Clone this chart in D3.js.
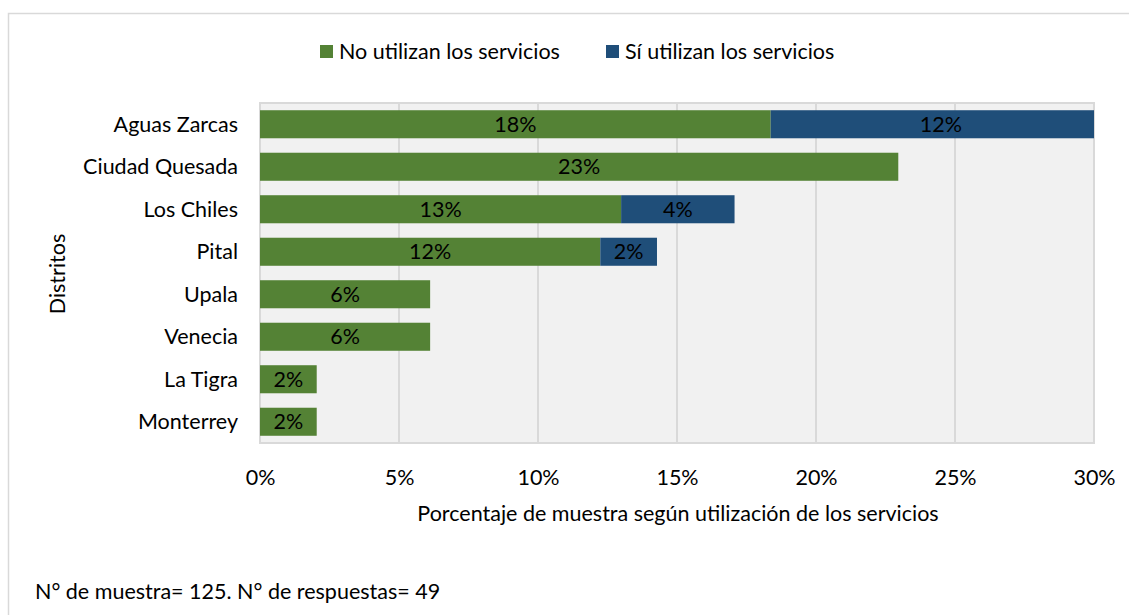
<!DOCTYPE html>
<html>
<head>
<meta charset="utf-8">
<script src="https://cdn.jsdelivr.net/npm/d3@7"></script>
<style>
  html, body { margin: 0; padding: 0; background: #fff; }
  svg { display: block; font-family: Lato, "Open Sans", sans-serif; }
</style>
</head>
<body>
<svg id="chart" width="1129" height="615"></svg>
<script>
// Districts, top to bottom
const districts = ["Aguas Zarcas", "Ciudad Quesada", "Los Chiles", "Pital", "Upala", "Venecia", "La Tigra", "Monterrey"];
// Share of sample (%) that does not use the services
const noUsan = [18.37, 22.96, 12.99, 12.24, 6.12, 6.12, 2.04, 2.04];
// Share of sample (%) that uses the services
const siUsan = [12.24, 0, 4.08, 2.04, 0, 0, 0, 0];
const seriesNames = ["No utilizan los servicios", "Sí utilizan los servicios"];
const seriesColors = ["#548235", "#1F4E79"];
const xTicks = [0, 5, 10, 15, 20, 25, 30];

const svg = d3.select("#chart");
const plot = { left: 260, right: 1094, top: 103, bottom: 443 };
const fontSize = 21.5;

// Outer chart frame (top and left edges visible)
svg.append("rect")
  .attr("x", 8.5).attr("y", 13.5)
  .attr("width", 1200).attr("height", 700)
  .attr("fill", "#fff").attr("stroke", "#d9d9d9").attr("stroke-width", 1.5);

const x = d3.scaleLinear().domain([0, 30]).range([plot.left, plot.right]);
const y = d3.scaleBand().domain(districts).range([plot.top, plot.bottom]).paddingInner(0.34).paddingOuter(0.17);

// Plot background
svg.append("rect")
  .attr("x", plot.left).attr("y", plot.top)
  .attr("width", plot.right - plot.left).attr("height", plot.bottom - plot.top)
  .attr("fill", "#f1f1f1").attr("stroke", "#d9d9d9").attr("stroke-width", 2);

// Vertical gridlines
svg.append("g").selectAll("line").data(xTicks.slice(1)).join("line")
  .attr("x1", d => x(d)).attr("x2", d => x(d))
  .attr("y1", plot.top).attr("y2", plot.bottom)
  .attr("stroke", "#d9d9d9").attr("stroke-width", 2);

// Stacked bars, clipped to the plot area
svg.append("clipPath").attr("id", "plotClip").append("rect")
  .attr("x", plot.left).attr("y", plot.top)
  .attr("width", plot.right - plot.left).attr("height", plot.bottom - plot.top);

const rows = districts.map((d, i) => ({ district: d, no: noUsan[i], si: siUsan[i] }));
const stack = d3.stack().keys(["no", "si"])(rows);

const barsG = svg.append("g").attr("clip-path", "url(#plotClip)");
stack.forEach((layer, k) => {
  barsG.append("g").selectAll("rect").data(layer).join("rect")
    .attr("x", d => x(d[0]))
    .attr("y", d => y(d.data.district))
    .attr("width", d => Math.max(0, x(d[1]) - x(d[0])))
    .attr("height", y.bandwidth())
    .attr("fill", seriesColors[k]);
});

// Value labels centred in each segment
const labelsG = svg.append("g")
  .attr("font-size", fontSize).attr("fill", "#000").attr("text-anchor", "middle");
stack.forEach(layer => {
  labelsG.selectAll(null).data(layer.filter(d => d[1] - d[0] > 0)).join("text")
    .attr("x", d => x((d[0] + d[1]) / 2))
    .attr("y", d => y(d.data.district) + y.bandwidth() / 2)
    .attr("dy", "0.35em")
    .text(d => Math.round(d[1] - d[0]) + "%");
});

// Category axis labels
svg.append("g").selectAll("text").data(districts).join("text")
  .attr("x", 238)
  .attr("y", d => y(d) + y.bandwidth() / 2)
  .attr("dy", "0.35em")
  .attr("text-anchor", "end")
  .attr("font-size", fontSize).attr("fill", "#000")
  .text(d => d);

// Value axis tick labels
const xAxis = d3.axisBottom(x).tickValues(xTicks).tickFormat(d => d + "%").tickSize(0).tickPadding(0);
const xAxisG = svg.append("g").attr("transform", `translate(0, 485)`).call(xAxis);
xAxisG.select(".domain").remove();
xAxisG.selectAll("text")
  .attr("font-size", fontSize).attr("fill", "#000")
  .attr("font-family", "Lato, 'Open Sans', sans-serif")
  .attr("dy", null);

// Axis titles
svg.append("text")
  .attr("x", 678).attr("y", 521)
  .attr("text-anchor", "middle").attr("font-size", fontSize).attr("fill", "#000")
  .text("Porcentaje de muestra según utilización de los servicios");

svg.append("text")
  .attr("transform", "translate(65, 274) rotate(-90)")
  .attr("text-anchor", "middle").attr("font-size", fontSize).attr("fill", "#000")
  .text("Distritos");

// Legend
const legendItems = [
  { name: seriesNames[0], color: seriesColors[0], x: 320 },
  { name: seriesNames[1], color: seriesColors[1], x: 606 }
];
const lg = svg.append("g").selectAll("g").data(legendItems).join("g")
  .attr("transform", d => `translate(${d.x}, 45)`);
lg.append("rect").attr("width", 13).attr("height", 13).attr("fill", d => d.color);
lg.append("text").attr("x", 19).attr("y", 6.5).attr("dy", "0.35em")
  .attr("font-size", fontSize).attr("fill", "#000")
  .text(d => d.name);

// Footnote
svg.append("text")
  .attr("x", 35).attr("y", 599)
  .attr("font-size", fontSize).attr("fill", "#000")
  .text("N° de muestra= 125. N° de respuestas= 49");
</script>
</body>
</html>
